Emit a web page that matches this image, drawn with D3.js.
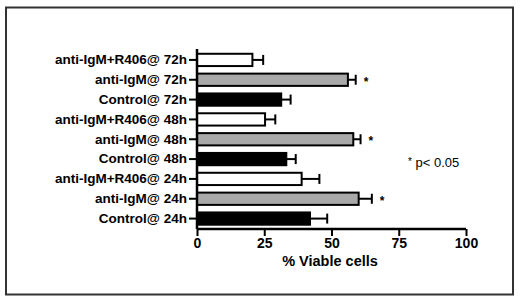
<!DOCTYPE html>
<html><head><meta charset="utf-8">
<script src="https://cdn.jsdelivr.net/npm/d3@7"></script>
<style>body{margin:0;background:#fff}svg{display:block}text{font-family:"Liberation Sans",Arial,sans-serif}</style>
</head><body><svg id="c" width="520" height="301"></svg>
<script>
const categories = ["anti-IgM+R406@ 72h","anti-IgM@ 72h","Control@ 72h","anti-IgM+R406@ 48h","anti-IgM@ 48h","Control@ 48h","anti-IgM+R406@ 24h","anti-IgM@ 24h","Control@ 24h"];
const groups = ["R406","antiIgM","Control","R406","antiIgM","Control","R406","antiIgM","Control"];
const values = [20.6,56.1,31.3,25.3,58.1,33.2,38.9,60.1,42.0];
const errors = [4.0,2.9,3.5,3.8,2.7,3.5,6.6,4.9,6.4];
const significant = [false,true,false,false,true,false,false,true,false];
const xTicks = [0,25,50,75,100];
const fills = {R406:"#ffffff", antiIgM:"#a9a9a9", Control:"#000000"};

const svg = d3.select("#c");
svg.append("rect").attr("x",6).attr("y",7.5).attr("width",507).attr("height",287).attr("fill","none").attr("stroke","#333").attr("stroke-width",2);

const x = d3.scaleLinear().domain([0,100]).range([197,466]);
const y = d3.scaleBand().domain(categories).range([50,228.5]).paddingInner(0.28).paddingOuter(0.14);

const g = svg.append("g");
categories.forEach((c,i)=>{
  const yc = y(c)+y.bandwidth()/2;
  g.append("rect").attr("x",x(0)).attr("y",y(c)+1).attr("width",x(values[i])-x(0)).attr("height",y.bandwidth()-2)
    .attr("fill",fills[groups[i]]).attr("stroke","#000").attr("stroke-width",2);
  const xe = x(values[i]+errors[i]);
  g.append("line").attr("x1",x(values[i])).attr("x2",xe).attr("y1",yc).attr("y2",yc).attr("stroke","#000").attr("stroke-width",2);
  g.append("line").attr("x1",xe).attr("x2",xe).attr("y1",yc-5).attr("y2",yc+5).attr("stroke","#000").attr("stroke-width",2);
  if(significant[i]) g.append("text").attr("x",xe+8).attr("y",yc+6).attr("font-size",12).attr("font-weight","bold").text("*");
});

const ya = svg.append("g").attr("transform","translate(197,0)").call(d3.axisLeft(y).tickSize(8).tickPadding(2));
ya.select(".domain").attr("d","M0,49V229").attr("stroke-width",2.5);
ya.selectAll(".tick line").attr("stroke-width",2);
ya.selectAll(".tick text").attr("font-size",13.5).attr("font-weight","bold").attr("fill","#000").attr("font-family","Liberation Sans, Arial, sans-serif");

const xa = svg.append("g").attr("transform","translate(0,229)").call(d3.axisBottom(x).tickValues(xTicks).tickSize(7).tickPadding(2));
xa.select(".domain").attr("d","M197,0H466").attr("stroke-width",2.5);
xa.selectAll(".tick line").attr("stroke-width",2);
xa.selectAll(".tick text").attr("font-size",14).attr("font-weight","bold").attr("fill","#000").attr("font-family","Liberation Sans, Arial, sans-serif");

svg.append("text").attr("x",330).attr("y",266).attr("text-anchor","middle").attr("font-size",14.5).attr("font-weight","bold").text("% Viable cells");
const leg = svg.append("text").attr("x",408).attr("y",167).attr("font-size",13);
leg.append("tspan").attr("font-size",10).attr("dy",-2).text("*");
leg.append("tspan").attr("dy",2).text(" p< 0.05");
</script></body></html>
